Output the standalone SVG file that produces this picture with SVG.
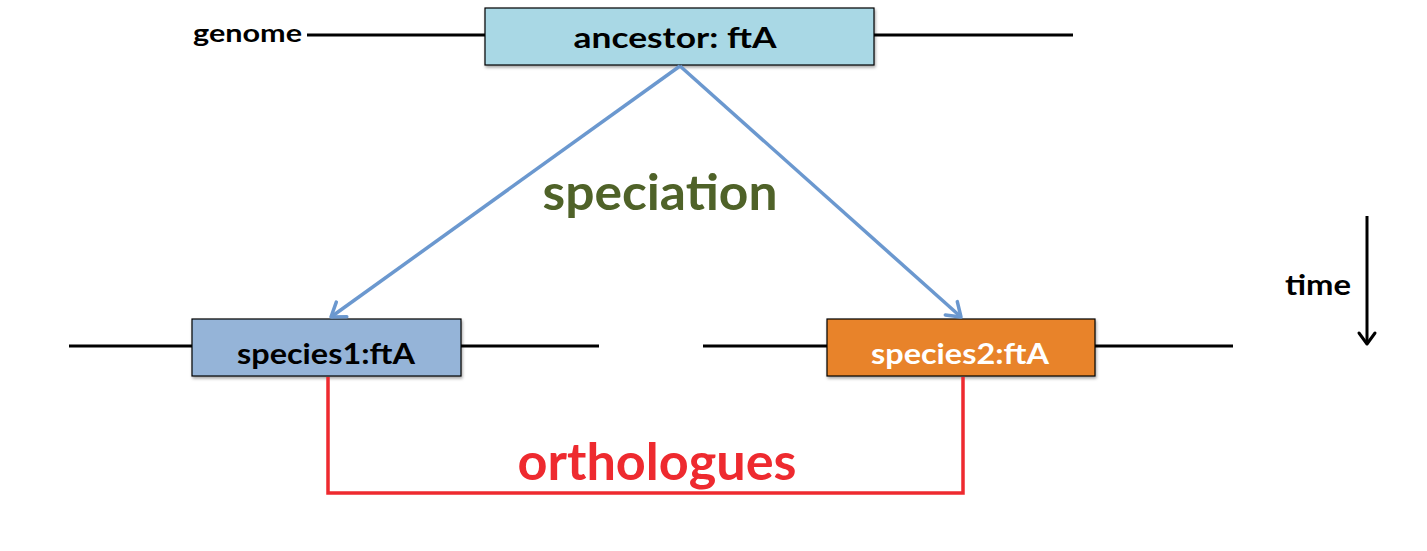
<svg xmlns="http://www.w3.org/2000/svg" width="1427" height="551" viewBox="0 0 1427 551">
<style>
text{font-family:Lato,"Open Sans","Liberation Sans",sans-serif;font-weight:bold;}
.gl{stroke:#000;stroke-width:3;fill:none}
.box{stroke:#000;stroke-width:1.2}
.lbl{font-size:28px;text-anchor:middle}
.arr{stroke:#6b98cf;stroke-width:3.5;fill:none}
.orth{stroke:#ee2a2f;stroke-width:3.5;fill:none}
</style>
<defs>
<filter id="sh" x="-5%" y="-10%" width="110%" height="130%">
<feDropShadow dx="1" dy="2" stdDeviation="1.5" flood-color="#000" flood-opacity="0.35"/>
</filter>
<marker id="ba" viewBox="0 0 20 20" refX="17" refY="10" markerWidth="20" markerHeight="20" markerUnits="userSpaceOnUse" orient="auto" overflow="visible">
<path d="M4,1 L17,10 L4,19" fill="none" stroke="#6b98cf" stroke-width="3.5" stroke-linecap="round" stroke-linejoin="round"/>
</marker>
<marker id="ka" viewBox="0 0 20 20" refX="17" refY="10" markerWidth="20" markerHeight="20" markerUnits="userSpaceOnUse" orient="auto" overflow="visible">
<path d="M6,2 L17,10 L6,18" fill="none" stroke="#000" stroke-width="3" stroke-linecap="round" stroke-linejoin="round"/>
</marker>
</defs>
<rect width="1427" height="551" fill="#fff"/>
<g id="genome-lines">
<line class="gl" x1="307" y1="35" x2="485" y2="35"/>
<line class="gl" x1="874" y1="35" x2="1073" y2="35"/>
<line class="gl" x1="69" y1="346" x2="192" y2="346"/>
<line class="gl" x1="461" y1="346" x2="599" y2="346"/>
<line class="gl" x1="703" y1="346" x2="827" y2="346"/>
<line class="gl" x1="1095" y1="346" x2="1233" y2="346"/>
</g>
<text x="193" y="42" font-size="25" textLength="109" lengthAdjust="spacingAndGlyphs">genome</text>
<g id="ancestor">
<rect class="box" x="485" y="8" width="389" height="57" fill="#a9d8e5" filter="url(#sh)"/>
<text class="lbl" x="675" y="48" textLength="203" lengthAdjust="spacingAndGlyphs">ancestor: ftA</text>
</g>
<g id="species1">
<rect class="box" x="192" y="319" width="269" height="57" fill="#95b4d8" filter="url(#sh)"/>
<text class="lbl" x="326" y="364" textLength="178" lengthAdjust="spacingAndGlyphs">species1:ftA</text>
</g>
<g id="species2">
<rect class="box" x="827" y="319" width="268" height="57" fill="#e8832b" filter="url(#sh)"/>
<text class="lbl" x="960" y="364" fill="#fff" textLength="178" lengthAdjust="spacingAndGlyphs">species2:ftA</text>
</g>
<g id="connectors">
<line class="arr" x1="680" y1="66" x2="331" y2="317" marker-end="url(#ba)"/>
<line class="arr" x1="680" y1="66" x2="961" y2="317" marker-end="url(#ba)"/>
<polyline class="orth" points="328,377 328,493 963,493 963,377"/>
<line stroke="#000" stroke-width="3" x1="1367" y1="216" x2="1367" y2="344" marker-end="url(#ka)"/>
</g>
<text x="660" y="210" font-size="50" text-anchor="middle" fill="#4f6228" textLength="235" lengthAdjust="spacingAndGlyphs">speciation</text>
<text x="657" y="480" font-size="52" text-anchor="middle" fill="#ee2a2f" textLength="279" lengthAdjust="spacingAndGlyphs">orthologues</text>
<text x="1285" y="295" font-size="29" textLength="66" lengthAdjust="spacingAndGlyphs">time</text>
</svg>
